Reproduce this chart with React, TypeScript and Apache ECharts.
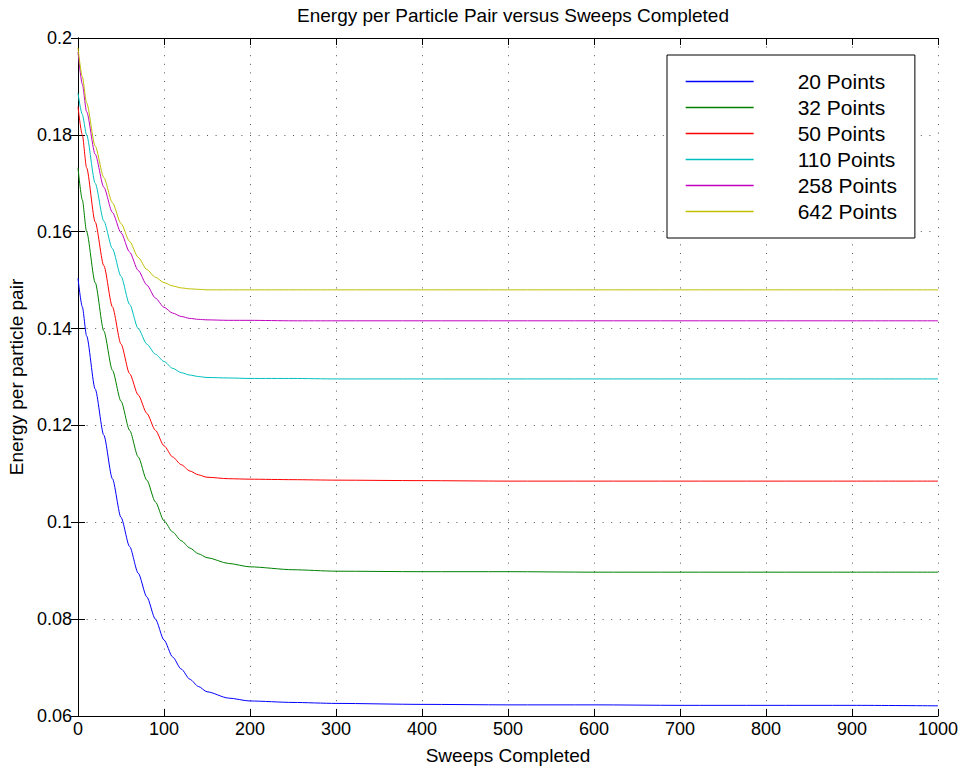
import React, { useEffect, useRef } from "react";
import * as echarts from "echarts";

const titleText = "Energy per Particle Pair versus Sweeps Completed";
const xAxisName = "Sweeps Completed";
const yAxisName = "Energy per particle pair";

const sweeps = [0, 5, 10, 20, 30, 40, 50, 60, 70, 80, 90, 100, 110, 120, 130, 140, 150, 175, 200, 250, 300, 400, 500, 600, 700, 800, 900, 1000];

const seriesNames = ["20 Points", "32 Points", "50 Points", "110 Points", "258 Points", "642 Points"];
const seriesColors = ["#0000ff", "#008000", "#ff0000", "#00bfbf", "#bf00bf", "#bfbf00"];

const energy20 = [0.1504, 0.1445, 0.1385, 0.1275, 0.1180, 0.1090, 0.1010, 0.0950, 0.0895, 0.0846, 0.0800, 0.0757, 0.0722, 0.0697, 0.0676, 0.0661, 0.0650, 0.0637, 0.0631, 0.0628, 0.0626, 0.0624, 0.0623, 0.0623, 0.0622, 0.0622, 0.0622, 0.0621];
const energy32 = [0.1732, 0.1666, 0.1600, 0.1495, 0.1395, 0.1314, 0.1250, 0.1190, 0.1135, 0.1087, 0.1042, 0.1003, 0.0980, 0.0962, 0.0947, 0.0935, 0.0927, 0.0915, 0.0908, 0.0902, 0.0899, 0.0898, 0.0898, 0.0897, 0.0897, 0.0897, 0.0897, 0.0897];
const energy50 = [0.1858, 0.1800, 0.1732, 0.1620, 0.1530, 0.1445, 0.1368, 0.1307, 0.1263, 0.1225, 0.1190, 0.1158, 0.1135, 0.1119, 0.1106, 0.1098, 0.1093, 0.1090, 0.1089, 0.1088, 0.1087, 0.1086, 0.1085, 0.1085, 0.1085, 0.1085, 0.1085, 0.1085];
const energy110 = [0.1886, 0.1842, 0.1800, 0.1700, 0.1622, 0.1565, 0.1508, 0.1450, 0.1400, 0.1368, 0.1347, 0.1332, 0.1318, 0.1309, 0.1304, 0.1301, 0.1299, 0.1298, 0.1297, 0.1297, 0.1296, 0.1296, 0.1296, 0.1296, 0.1296, 0.1296, 0.1296, 0.1296];
const energy258 = [0.1971, 0.1905, 0.1848, 0.1760, 0.1692, 0.1640, 0.1598, 0.1558, 0.1520, 0.1490, 0.1463, 0.1444, 0.1432, 0.1425, 0.1421, 0.1419, 0.1418, 0.1417, 0.1417, 0.1416, 0.1416, 0.1416, 0.1416, 0.1416, 0.1416, 0.1416, 0.1416, 0.1416];
const energy642 = [0.1980, 0.1920, 0.1866, 0.1777, 0.1712, 0.1660, 0.1617, 0.1580, 0.1547, 0.1522, 0.1506, 0.1495, 0.1488, 0.1484, 0.1482, 0.1481, 0.1480, 0.1480, 0.1480, 0.1480, 0.1480, 0.1480, 0.1480, 0.1480, 0.1480, 0.1480, 0.1480, 0.1480];

const allEnergy = [energy20, energy32, energy50, energy110, energy258, energy642];

const FONT = "'Liberation Sans', Arial, Helvetica, sans-serif";

export default function App() {
  const ref = useRef<HTMLDivElement>(null);
  useEffect(() => {
    if (!ref.current) return;
    const chart = echarts.init(ref.current, undefined, { renderer: "svg" });
    const axisCommon = {
      type: "value" as const,
      axisLine: { show: true, lineStyle: { color: "#000", width: 1 } },
      axisTick: { show: true, inside: true, length: 7, lineStyle: { color: "#000" } },
    };
    chart.setOption({
      animation: false,
      backgroundColor: "#fff",
      title: {
        text: titleText,
        left: 508,
        textAlign: "center",
        top: 1,
        textStyle: { fontFamily: FONT, fontSize: 19, fontWeight: "normal", color: "#000" },
      },
      grid: {
        left: 78,
        width: 860,
        top: 38,
        height: 678,
        show: false,
        containLabel: false,
        outerBoundsMode: "none",
      },
      legend: {
        orient: "vertical",
        left: 667,
        top: 55,
        padding: [16, 18, 16, 18],
        itemWidth: 68,
        itemHeight: 21,
        itemGap: 5,
        borderColor: "#000",
        borderWidth: 1,
        backgroundColor: "#fff",
        data: seriesNames.map((n, i) => ({
          name: n,
          itemStyle: { opacity: 0, borderWidth: 0 },
          lineStyle: { color: seriesColors[i], width: 1.3 },
        })),
        itemStyle: { opacity: 0, borderWidth: 0 },
        textStyle: {
          fontFamily: FONT,
          fontSize: 21,
          lineHeight: 21,
          color: "#000",
          padding: [0, 0, 0, 39],
        },
      },
      xAxis: [
        {
          ...axisCommon,
          position: "bottom",
          min: 0,
          max: 1000,
          interval: 100,
          name: xAxisName,
          nameLocation: "middle",
          nameGap: 30,
          nameTextStyle: { fontFamily: FONT, fontSize: 19, color: "#000" },
          axisLabel: { fontFamily: FONT, fontSize: 18, color: "#000", margin: 4, formatter: (v: number) => String(v) },
          splitLine: { show: true, lineStyle: { color: "#555", width: 1, type: [1, 7.6] } },
        },
        {
          ...axisCommon,
          position: "top",
          min: 0,
          max: 1000,
          interval: 100,
          axisLabel: { show: false },
          splitLine: { show: false },
        },
      ],
      yAxis: [
        {
          ...axisCommon,
          position: "left",
          min: 0.06,
          max: 0.2,
          interval: 0.02,
          name: yAxisName,
          nameLocation: "middle",
          nameGap: 51,
          nameTextStyle: { fontFamily: FONT, fontSize: 19, color: "#000" },
          axisLabel: { fontFamily: FONT, fontSize: 18, color: "#000", margin: 6 },
          splitLine: { show: true, lineStyle: { color: "#555", width: 1, type: [1, 7.6] } },
        },
        {
          ...axisCommon,
          position: "right",
          min: 0.06,
          max: 0.2,
          interval: 0.02,
          axisLabel: { show: false },
          splitLine: { show: false },
        },
      ],
      series: allEnergy.map((vals, i) => ({
        name: seriesNames[i],
        type: "line",
        xAxisIndex: 0,
        yAxisIndex: 0,
        showSymbol: false,
        symbol: "none",
        smooth: 0.25,
        smoothMonotone: "x",
        color: seriesColors[i],
        lineStyle: { color: seriesColors[i], width: 1 },
        itemStyle: { color: seriesColors[i] },
        data: sweeps.map((s, j) => [s, vals[j]]),
      })),
    });
    return () => chart.dispose();
  }, []);
  return (
    <div
      ref={ref}
      style={{ position: "fixed", left: 0, top: 0, width: 964, height: 771, background: "#fff" }}
    />
  );
}
